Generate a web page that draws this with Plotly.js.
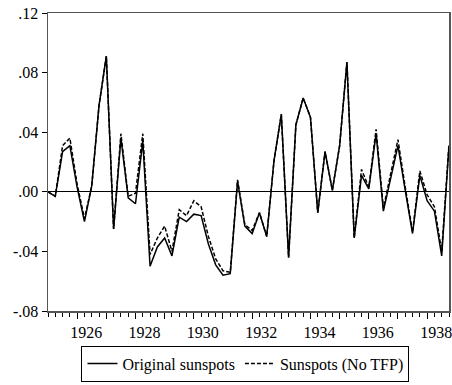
<!DOCTYPE html>
<html><head><meta charset="utf-8">
<script src="https://cdn.plot.ly/plotly-3.0.1.min.js"></script>
<style>html,body{margin:0;padding:0;background:#fff}#chart{width:452px;height:385px}</style>
</head><body><div id="chart"></div>
<script>
// Quarterly observations 1925Q1 .. 1938Q4
const startYear = 1925;
const original = [0.000,-0.003,0.027,0.031,0.003,-0.020,0.004,0.058,0.091,-0.025,
  0.036,-0.004,-0.008,0.034,-0.050,-0.037,-0.031,-0.043,-0.017,-0.020,
  -0.015,-0.016,-0.035,-0.049,-0.056,-0.055,0.007,-0.023,-0.028,-0.014,
  -0.030,0.021,0.052,-0.044,0.045,0.063,0.050,-0.014,0.027,0.001,
  0.031,0.087,-0.031,0.011,0.002,0.039,-0.013,0.010,0.031,0.001,
  -0.028,0.011,-0.006,-0.013,-0.043,0.031];
const noTFP = [0.000,-0.003,0.031,0.036,0.005,-0.018,0.004,0.058,0.091,-0.025,
  0.039,-0.003,-0.001,0.039,-0.042,-0.031,-0.023,-0.040,-0.012,-0.016,
  -0.006,-0.010,-0.030,-0.045,-0.053,-0.054,0.008,-0.022,-0.026,-0.014,
  -0.030,0.021,0.052,-0.044,0.045,0.063,0.050,-0.014,0.027,0.001,
  0.031,0.087,-0.031,0.015,0.003,0.042,-0.011,0.013,0.035,0.003,
  -0.027,0.014,-0.002,-0.010,-0.040,0.032];
const yTickVals = [0.12,0.08,0.04,0.00,-0.04,-0.08];
const yTickText = ['.12','.08','.04','.00','-.04','-.08'];
const xYears = [1926,1927,1928,1929,1930,1931,1932,1933,1934,1935,1936,1937,1938];
const xYearText = ['1926','','1928','','1930','','1932','','1934','','1936','','1938'];
const seriesNames = ['Original sunspots','Sunspots (No TFP)'];

const x = original.map((_, i) => startYear + i / 4);
const font = {family: "'Liberation Serif', 'Times New Roman', serif", size: 16, color: '#000'};

const traces = [
  {x: x, y: original, type: 'scatter', mode: 'lines', name: seriesNames[0],
   line: {color: '#000', width: 1.5}},
  {x: x, y: noTFP, type: 'scatter', mode: 'lines', name: seriesNames[1],
   line: {color: '#000', width: 1.5, dash: '4px,2px'}}
];

const layout = {
  width: 452, height: 385,
  margin: {l: 48, r: 3, t: 13, b: 72},
  paper_bgcolor: '#fff', plot_bgcolor: '#fff',
  font: font,
  showlegend: true,
  legend: {orientation: 'h', x: 0.4925, xanchor: 'center', y: -0.2367, yanchor: 'bottom',
    bordercolor: '#000', borderwidth: 1, font: font, itemwidth: 30, tracegroupgap: 0},
  xaxis: {range: [startYear, startYear + (original.length - 1) / 4], showgrid: false, zeroline: false,
    tickmode: 'array', tickvals: xYears, ticktext: xYearText, ticks: 'outside', ticklen: 6,
    tickcolor: '#000', tickwidth: 1, ticklabelshift: 9, ticklabeloverflow: 'allow',
    minor: {dtick: 0.25, tick0: startYear, ticks: 'outside', ticklen: 4, tickcolor: '#000', tickwidth: 1, showgrid: false},
    showline: true, linecolor: '#555', linewidth: 1.5, mirror: true, tickfont: font},
  yaxis: {range: [-0.08, 0.12], showgrid: false,
    zeroline: true, zerolinecolor: '#000', zerolinewidth: 1,
    tickmode: 'array', tickvals: yTickVals, ticktext: yTickText, ticks: 'outside', ticklen: 5,
    tickcolor: '#000', tickwidth: 1,
    showline: true, linecolor: '#555', linewidth: 1.5, mirror: true, tickfont: font}
};
Plotly.newPlot('chart', traces, layout, {displayModeBar: false, staticPlot: true});
</script></body></html>
